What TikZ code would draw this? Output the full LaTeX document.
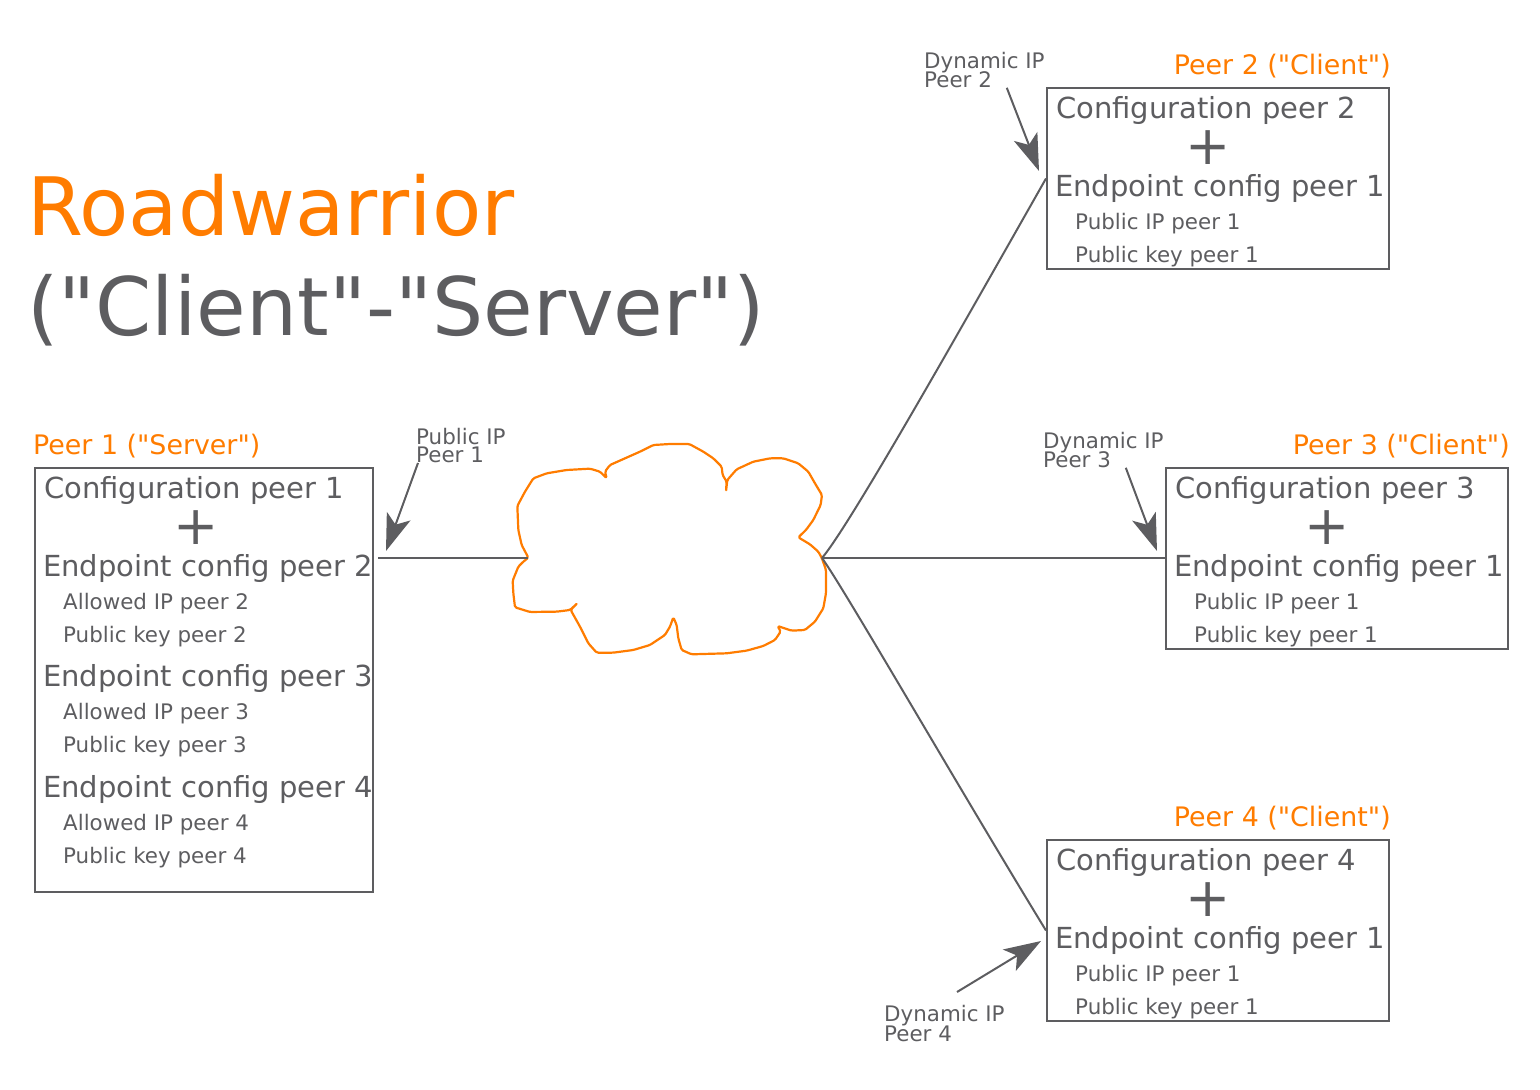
\documentclass[tikz,border=0pt]{standalone}
\usepackage{fontspec}
\newfontfamily\wgfont{DejaVu Sans}
\usetikzlibrary{calc,arrows.meta}

\definecolor{wgorange}{HTML}{FF7C00}
\definecolor{wggrey}{HTML}{5D5D60}

\tikzset{
    peerbox/.style={draw=wggrey, line width=2pt, inner sep=0pt, anchor=north west},
    peername/.style={text=wgorange, inner sep=0pt, font=\fontsize{26.85}{26}\selectfont},
    heading/.style={text=wggrey, inner sep=0pt, anchor=base west, font=\fontsize{29}{30}\selectfont},
    detail/.style={text=wggrey, inner sep=0pt, anchor=base west, font=\fontsize{21.4}{22}\selectfont},
    plussign/.style={text=wggrey, inner sep=0pt, font=\fontsize{54}{54}\selectfont},
    iplabel/.style={text=wggrey, inner sep=0pt, anchor=north west, align=left, font=\fontsize{21.4}{20}\selectfont},
    link/.style={draw=wggrey, line width=2pt},
    pointer/.style={draw=wggrey, line width=2pt, -{Stealth[length=37pt, width=25pt, inset=9pt]}},
}

\begin{document}
\wgfont
\begin{tikzpicture}[x=1pt, y=-1pt]
    \useasboundingbox (0,0) rectangle (1540,1090);

    % title
    \node (title1) [text=wgorange, inner sep=0pt, anchor=base west, font=\fontsize{80.6}{80}\selectfont] at (27,235) {Roadwarrior};
    \node (title2) [text=wggrey, inner sep=0pt, anchor=base west, font=\fontsize{80.6}{80}\selectfont] at (27,335) {("Client"-"Server")};

    % server
    \node (box1) [peerbox, minimum width=338pt, minimum height=424pt] at (34,467) {};
    \node (name1) [peername, anchor=base west] at (33,454) {Peer 1 ("Server")};
    \node (conf1) [heading] at ($(box1.north west)+(10,31)$) {Configuration peer 1};
    \node (plus1) [plussign] at ($(box1.north west)+(162,61)$) {+};
    \foreach \n/\d in {2/0,3/110.6,4/221.2} {
        \node (end\n) [heading] at ($(box1.north west)+(9,109)+(0,\d)$) {Endpoint config peer \n};
        \node (allowed\n) [detail] at ($(box1.north west)+(29,142)+(0,\d)$) {Allowed IP peer \n};
        \node (key\n) [detail] at ($(box1.north west)+(29,175)+(0,\d)$) {Public key peer \n};
    }

    % clients
    \foreach \n/\x/\y in {2/1046/87,3/1165/467,4/1046/839} {
        \node (box\n) [peerbox, minimum width=342pt, minimum height=181pt] at (\x,\y) {};
        \node (name\n) [peername, anchor=base east] at ($(box\n.north east)+(1,-13)$) {Peer \n{} ("Client")};
        \node (cconf\n) [heading] at ($(box\n.north west)+(10,31)$) {Configuration peer \n};
        \node (cplus\n) [plussign] at ($(box\n.north west)+(162,61)$) {+};
        \node (cend\n) [heading] at ($(box\n.north west)+(9,109)$) {Endpoint config peer 1};
        \node (cip\n) [detail] at ($(box\n.north west)+(29,142)$) {Public IP peer 1};
        \node (ckey\n) [detail] at ($(box\n.north west)+(29,175)$) {Public key peer 1};
    }

    % cloud
    \draw[wgorange, line width=2.2pt, line join=round, rounded corners=1.5pt, shift={(500,430)}, x=0.3333pt, y=-0.3333pt]
        (85,383) -- (65,345) -- (55,300) -- (52,228) -- (75,185) -- (100,145) -- (140,130) -- (200,120)
        -- (270,116) -- (300,125) -- (320,145) -- (315,125) -- (330,105) -- (375,85) -- (420,65) -- (460,45)
        -- (510,42) -- (568,42) -- (610,65) -- (640,85) -- (665,110) -- (668,135) -- (680,155) -- (678,185)
        -- (682,150) -- (710,118) -- (760,95) -- (810,85) -- (850,85) -- (895,100) -- (925,125) -- (945,160)
        -- (966,195) -- (962,225) -- (940,270) -- (918,300) -- (895,322) -- (930,343) -- (955,365) -- (966,385)
        -- (978,420) -- (978,490) -- (970,535) -- (945,575) -- (915,600) -- (875,602) -- (833,588) -- (842,605)
        -- (825,630) -- (790,648) -- (740,662) -- (680,670) -- (575,673) -- (545,660) -- (535,625) -- (530,585)
        -- (520,562) -- (510,590) -- (495,615) -- (450,645) -- (400,660) -- (340,668) -- (290,668) -- (265,640)
        -- (240,590) -- (212,540) -- (233,519) -- (210,540) -- (170,545) -- (90,546) -- (45,532) -- (40,490)
        -- (38,452) -- (55,410) -- (70,395) -- cycle;

    \coordinate (cloudW) at (528,558);
    \coordinate (cloudE) at (822,558);
    \coordinate (server) at (378,558);

    % links
    \draw[link] (server) -- (cloudW);
    \draw[link] (cloudE) .. controls (850,525) and (960,330) .. (box2.west);
    \draw[link] (cloudE) -- (cloudE -| box3.west);
    \draw[link] (cloudE) .. controls (845,590) and (960,790) .. (box4.west);

    % ip labels
    \node (ip1) [iplabel] at (416,428.5) {Public IP\\[-2pt]Peer 1};
    \node (ip2) [iplabel] at (924,52) {Dynamic IP\\[-2pt]Peer 2};
    \node (ip3) [iplabel] at (1043,432) {Dynamic IP\\[-2pt]Peer 3};
    \node (ip4) [iplabel] at (884,1005.5) {Dynamic IP\\[-2pt]Peer 4};

    \coordinate (tip1) at (386,551);
    \coordinate (tip2) at (1039,171);
    \coordinate (tip3) at (1157,551);
    \coordinate (tip4) at (1041,941);

    \draw[pointer] ($(ip1.south west)+(2,-0.5)$) -- (tip1);
    \draw[pointer] ($(ip2.south east)+(-38,-0.5)$) -- (tip2);
    \draw[pointer] ($(ip3.south east)+(-38,-0.5)$) -- (tip3);
    \draw[pointer] ($(ip4.north west)+(73,-13.5)$) -- (tip4);
\end{tikzpicture}
\end{document}
